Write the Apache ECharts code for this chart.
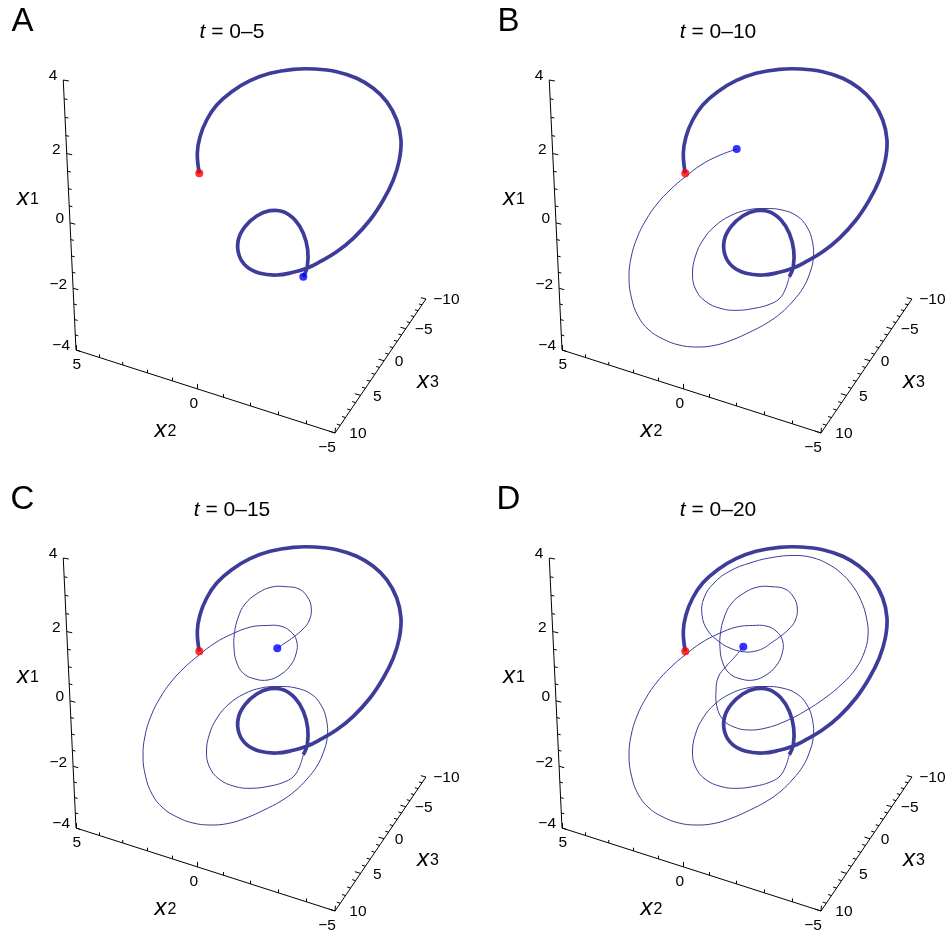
<!DOCTYPE html>
<html><head><meta charset="utf-8">
<script src="https://cdn.jsdelivr.net/npm/echarts@6/dist/echarts.min.js"></script>
<style>html,body{margin:0;padding:0;background:#fff}#c{width:952px;height:937px}</style>
</head><body><div id="c"></div>
<script>
// ---------------- data ----------------
const panelLetters = ['A', 'B', 'C', 'D'];
const panelTitles = ['0–5', '0–10', '0–15', '0–20'];
const x1Ticks = [-4, -2, 0, 2, 4];
const x2Ticks = [5, 0, -5];
const x3Ticks = [10, 5, 0, -5, -10];
// projected trajectory (view coordinates), t = 0–5 (thick)
const pathT0_5 = [[199.3,173.3],[197.3,153.3],[200,136.7],[206.7,120],[216.7,105],[231.7,91.7],[250,80.7],[270,73.3],[293.3,69.3],[315,69],[336.7,71.7],[356.7,78.3],[373.3,88.3],[386.7,101.7],[396.7,120],[401,140],[399.3,160],[393.3,180],[383.3,200],[370,220],[353.3,238.3],[336.7,251.7],[320,261.7],[306.7,268.3],[293.3,272.3],[276.7,275],[260,273.3],[246.7,266.7],[239,255],[238.3,240],[245,226.7],[256.7,216],[270,210.7],[283.3,211.7],[295,220],[303.3,233.3],[307.7,250],[307.3,266.7],[303.3,276.7]];
// t = 5–10
const pathT5_10 = [[303.3,276.7],[299,290],[293,299],[283,304.5],[270,308],[252,310.3],[235,308.5],[219,301],[209.5,289],[206.5,274],[209.5,256],[217,240],[229,226],[244,216],[261,210],[279,208.5],[296,210],[311,216],[321,227],[326.5,242],[327.3,258.7],[323.5,274],[317,288],[307,301],[295,313],[281,323],[264,332],[246,340],[228,345.5],[210,347],[193,345],[177,339],[163,330],[152,316],[145.5,298],[143,278],[145,258],[151,238],[160,220],[171,204],[184,190],[199,177],[215,165],[232,156],[250.7,149]];
// t = 10–15
const pathT10_15 = [[250.7,149],[266.7,147.5],[280,148],[290,153],[296.7,163],[296,176],[290,188],[280,197],[268,202],[255,201],[243.3,195.3],[236.5,184],[234,170],[234.5,155],[238,140],[245,126],[258,115],[272,109],[286,108.7],[299,111],[307.3,118.7],[311.3,130],[309,143],[302,152],[294,158.7],[285,165],[277.3,170.3]];
// t = 15–20
const pathT15_20 = [[277.3,170.3],[267.3,173.5],[257,173.7],[245,170.5],[234,164.3],[222,153],[216,137],[218,120],[228,105],[244,93],[264,85],[286,79.5],[308,77.5],[326,79.5],[342,86],[355,95],[366,107],[375,122.5],[380.5,140],[382,158],[378,175],[369.5,191],[356,206],[339,220],[320,232.5],[300,243],[280,250],[262,252],[248,249],[237.3,242],[231,229],[230,213],[232.3,199],[240,188.5],[249,178.7],[257.3,168.7]];

// ---------------- view / layout ----------------
const FONT = "'Liberation Sans', Arial, Helvetica, sans-serif";
const LINE = '#3d3d99';
const VIEW = {O:[76,350], A:[-19.7,-278.8], B:[219.5,31.9], C:[144.1,-73.35], a:-0.11, b:-0.118, c:0.15};
function proj(x1, x2, x3) {
  const r = (x1 + 4) / 8, p = (5 - x2) / 10, q = (10 - x3) / 20;
  const d = 1 + r * VIEW.a + p * VIEW.b + q * VIEW.c;
  return [(VIEW.O[0] + r * VIEW.A[0] + p * VIEW.B[0] + q * VIEW.C[0]) / d,
          (VIEW.O[1] + r * VIEW.A[1] + p * VIEW.B[1] + q * VIEW.C[1]) / d];
}
const offsets = [[0,0],[486,0],[0,478],[486,478]];
const GW = 466, GH = 459;
const fmt = v => (v < 0 ? '−' + Math.abs(v) : String(v));

const grids = [], xAxes = [], yAxes = [], series = [], graphics = [];
const thinSegments = [pathT5_10, pathT10_15, pathT15_20];

function curveSeries(k, pts, width, z) {
  return {
    type: 'custom', xAxisIndex: k, yAxisIndex: k, silent: true, z: z, clip: false,
    data: pts, encode: {x: 0, y: 1},
    renderItem: function (params, api) {
      if (params.dataIndex !== 0) return null;
      const px = pts.map(p => api.coord(p));
      return {type: 'polyline', shape: {points: px, smooth: 0.42},
        style: {stroke: LINE, lineWidth: width, fill: null, lineJoin: 'round', lineCap: 'butt'}};
    }
  };
}

offsets.forEach((off, k) => {
  grids.push({left: off[0], top: off[1], width: GW, height: GH, containLabel: false});
  xAxes.push({type: 'value', gridIndex: k, min: 0, max: GW, show: false});
  yAxes.push({type: 'value', gridIndex: k, min: 0, max: GH, inverse: true, show: false});
  const base = {xAxisIndex: k, yAxisIndex: k, silent: true, animation: false};

  // axis lines and ticks
  const axisSegs = [
    [proj(-4, 5, 10), proj(4, 5, 10)],
    [proj(-4, 5, 10), proj(-4, -5, 10)],
    [proj(-4, -5, 10), proj(-4, -5, -10)]
  ];
  const tickSegs = [];
  for (let v = -4; v <= 4.001; v += 0.5) {
    const major = x1Ticks.includes(v);
    tickSegs.push([proj(v, 5, 10), proj(v, 5 - (major ? 0.22 : 0.13), 10)]);
  }
  for (let v = -5; v <= 5; v += 1) {
    const major = x2Ticks.includes(v);
    tickSegs.push([proj(-4, v, 10), proj(-4 + (major ? 0.16 : 0.1), v, 10)]);
  }
  for (let v = -10; v <= 10; v += 1) {
    const major = x3Ticks.includes(v);
    tickSegs.push([proj(-4, -5, v), proj(-4, -5 + (major ? 0.2 : 0.12), v)]);
  }
  series.push(Object.assign({type: 'lines', coordinateSystem: 'cartesian2d', z: 1,
    data: axisSegs.concat(tickSegs).map(s => ({coords: s})),
    lineStyle: {color: '#000', width: 1, opacity: 1}}, base));

  // thin trajectory
  if (k > 0) {
    let pts = [];
    thinSegments.slice(0, k).forEach((seg, i) => { pts = pts.concat(i === 0 ? seg : seg.slice(1)); });
    series.push(curveSeries(k, pts, 1, 2));
  }
  // thick trajectory
  series.push(curveSeries(k, pathT0_5, 3.7, 3));
  // start / end points
  const endPath = k === 0 ? pathT0_5 : thinSegments[k - 1];
  series.push(Object.assign({type: 'scatter', z: 4, symbolSize: 8, clip: false,
    data: [{value: pathT0_5[0], itemStyle: {color: '#ff0000'}},
           {value: endPath[endPath.length - 1], itemStyle: {color: '#0000ff'}}]}, base));

  // tick labels
  const labels = [];
  x1Ticks.forEach(v => { const t = proj(v, 5, 10); labels.push({pos: [t[0] - 6, t[1] - 4], text: fmt(v), align: 'right'}); });
  x2Ticks.forEach(v => { const t = proj(-4, v, 10); labels.push({pos: [t[0] - 3.6 + 0.87 * v, t[1] + 15], text: fmt(v), align: 'center'}); });
  x3Ticks.forEach(v => { const t = proj(-4, -5, v); labels.push({pos: [t[0] + 7.3 + (v + 10) / 20 * 7, t[1] + 1], text: fmt(v), align: 'left'}); });
  series.push({type: 'custom', xAxisIndex: k, yAxisIndex: k, silent: true, z: 5, clip: false,
    data: labels.map(l => l.pos), encode: {x: 0, y: 1},
    renderItem: function (params, api) {
      const l = labels[params.dataIndex];
      const p = api.coord(l.pos);
      return {type: 'text', x: p[0], y: p[1],
        style: {text: l.text, fontSize: 15.5, fontFamily: FONT, fill: '#000', align: l.align, verticalAlign: 'middle'}};
    }});

  // texts
  const ox = off[0], oy = off[1];
  graphics.push({type: 'text', x: ox + 22.5, y: oy + 22, style: {text: panelLetters[k], fontSize: 33, fontFamily: FONT, fill: '#000', align: 'center', verticalAlign: 'middle'}});
  graphics.push({type: 'text', x: ox + 232, y: oy + 32, style: {text: '{i|t} = ' + panelTitles[k], fontSize: 21, fontFamily: FONT, fill: '#000', align: 'center', verticalAlign: 'middle',
    rich: {i: {fontStyle: 'italic', fontSize: 21, fontFamily: FONT}}}});
  const axName = (x, y, sub) => ({type: 'text', x: ox + x, y: oy + y, style: {text: '{x|x}{s|' + sub + '}', fill: '#000', align: 'center', verticalAlign: 'middle',
    rich: {x: {fontStyle: 'italic', fontSize: 24, fontFamily: FONT, padding: [0, 1, 4, 0]}, s: {fontSize: 16, fontFamily: FONT}}}});
  graphics.push(axName(28, 200, '1'));
  graphics.push(axName(165.5, 432, '2'));
  graphics.push(axName(428, 383, '3'));
});

const chart = echarts.init(document.getElementById('c'), null, {renderer: 'canvas'});
chart.setOption({
  animation: false,
  backgroundColor: '#fff',
  grid: grids, xAxis: xAxes, yAxis: yAxes,
  series: series,
  graphic: graphics
});
</script></body></html>
